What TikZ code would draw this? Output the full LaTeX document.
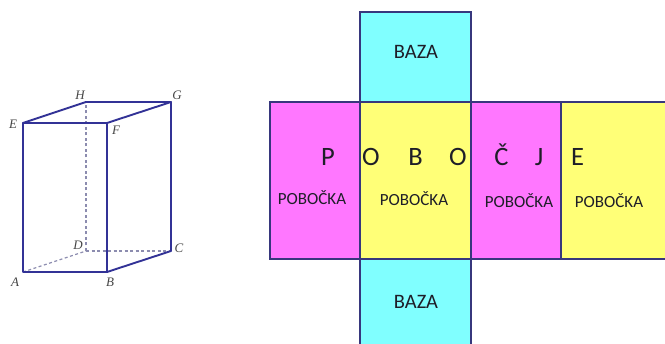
\documentclass[tikz,border=0pt]{standalone}
\usepackage{fontspec}
\setmainfont{Carlito}
\newfontfamily\serifit{Liberation Serif}
\definecolor{edgeblue}{RGB}{50,50,150}
\definecolor{netedge}{RGB}{55,55,125}
\definecolor{hid}{RGB}{140,140,175}
\definecolor{cyanf}{RGB}{128,255,255}
\definecolor{magf}{RGB}{255,119,255}
\definecolor{yelf}{RGB}{255,255,119}
\definecolor{txt}{RGB}{30,30,40}
\definecolor{lab}{RGB}{70,70,70}
\tikzset{
  x=1pt,y=-1pt,
  solidedge/.style={draw=edgeblue,line width=1.9pt,line join=round,line cap=round},
  hiddenedge/.style={draw=hid,line width=1.2pt,dash pattern=on 3pt off 2.5pt},
  face/.style={draw=netedge,line width=1.8pt},
  vlabel/.style={font=\serifit\itshape\fontsize{13}{13}\selectfont,text=lab,inner sep=0pt},
  small/.style={font=\fontsize{17}{17}\selectfont,text=txt,inner sep=0pt},
  big/.style={font=\fontsize{20.5}{20.5}\selectfont,text=txt,inner sep=0pt},
  spaced/.style={font=\fontsize{26.5}{26.5}\selectfont,text=txt,inner sep=0pt,anchor=base}
}
\begin{document}
\begin{tikzpicture}
\useasboundingbox (0,0) rectangle (665,344);
\coordinate (A) at (23,272);
\coordinate (B) at (107,272);
\coordinate (C) at (171,251);
\coordinate (D) at (86,251);
\coordinate (E) at (23,123);
\coordinate (F) at (107,123);
\coordinate (G) at (171,102);
\coordinate (H) at (86,102);
\draw[hiddenedge] (A)--(D);
\draw[hiddenedge] (D)--(C);
\draw[hiddenedge] (D)--(H);
\draw[solidedge] (A)--(B)--(C)--(G)--(H)--(E)--cycle;
\draw[solidedge] (E)--(F)--(G);
\draw[solidedge] (F)--(B);
\node[vlabel] (la) at (15,282) {A};
\node[vlabel] (lb) at (110,282) {B};
\node[vlabel] (lc) at (179,248) {C};
\node[vlabel] (ld) at (78,245) {D};
\node[vlabel] (le) at (13,124) {E};
\node[vlabel] (lf) at (116,130) {F};
\node[vlabel] (lg) at (177,95) {G};
\node[vlabel] (lh) at (80,95) {H};
% net
\fill[cyanf] (360,12) rectangle (471,102);
\fill[cyanf] (360,259) rectangle (471,350);
\fill[magf] (270,102) rectangle (360,259);
\fill[yelf] (360,102) rectangle (471,259);
\fill[magf] (471,102) rectangle (561,259);
\fill[yelf] (561,102) rectangle (670,259);
\draw[face] (360,12) rectangle (471,102);
\draw[face] (360,259) rectangle (471,350);
\draw[face] (270,102) rectangle (360,259);
\draw[face] (360,102) rectangle (471,259);
\draw[face] (471,102) rectangle (561,259);
\draw[face] (561,102) rectangle (670,259);
\node[big] (b1) at (416,52) {BAZA};
\node[big] (b2) at (416,302) {BAZA};
\node[small] (p1) at (312,198) {POBOČKA};
\node[small] (p2) at (414,199) {POBOČKA};
\node[small] (p3) at (519,201) {POBOČKA};
\node[small] (p4) at (609,201) {POBOČKA};
\node[spaced] (t1) at (328,166) {P};
\node[spaced] (t2) at (371,166) {O};
\node[spaced] (t3) at (415.5,166) {B};
\node[spaced] (t4) at (458,166) {O};
\node[spaced] (t5) at (501.5,166) {Č};
\node[spaced] (t6) at (539,166) {J};
\node[spaced] (t7) at (577.5,166) {E};
\end{tikzpicture}
\end{document}
